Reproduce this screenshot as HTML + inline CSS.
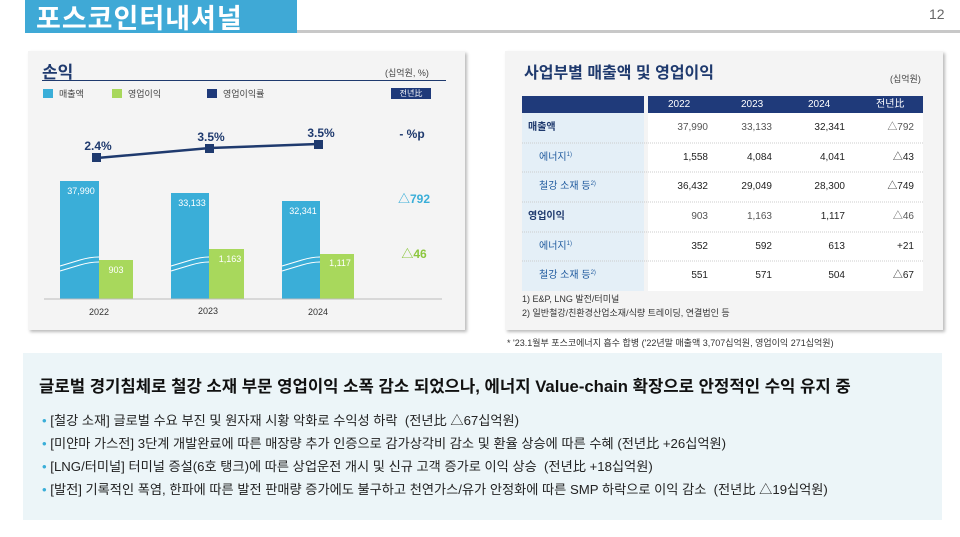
<!DOCTYPE html>
<html><head><meta charset="utf-8"><style>
*{margin:0;padding:0;box-sizing:border-box}
body{width:960px;height:537px;background:#fff;position:relative;overflow:hidden;font-family:"Liberation Sans","Noto Sans CJK KR",sans-serif;color:#222}
.a{position:absolute;white-space:nowrap}
.panel{position:absolute;background:#f4f4f4;box-shadow:2px 2px 3px #bbb}
.r{text-align:right}
.tb span{line-height:12px;height:12px;top:9px}
.tb sup{font-size:6px;line-height:0;vertical-align:4px}
.hd span{line-height:17px;top:0}
</style></head><body>
<div class="a" style="left:25px;top:0;width:272px;height:33px;background:#3fa9d6"></div>
<div class="a" style="left:36px;top:-3px;font-size:27px;font-weight:bold;color:#fff;letter-spacing:1px">포스코인터내셔널</div>
<div class="a" style="left:297px;top:30px;width:663px;height:3px;background:#c8c8c8"></div>
<div class="a" style="left:929px;top:6px;font-size:14px;color:#666">12</div>

<div class="panel" style="left:28px;top:51px;width:437px;height:279px"></div>
<div class="a" style="left:42px;top:58px;font-size:17px;font-weight:bold;color:#1f3a6e">손익</div>
<div class="a" style="left:385px;top:66px;font-size:9px;color:#444">(십억원, %)</div>
<div class="a" style="left:42px;top:80px;width:404px;height:1px;background:#1f3a6e"></div>
<div class="a" style="left:43px;top:89px;width:10px;height:9px;background:#3aaed8"></div>
<div class="a" style="left:59px;top:87px;font-size:9px;color:#444">매출액</div>
<div class="a" style="left:112px;top:89px;width:10px;height:9px;background:#a8d85c"></div>
<div class="a" style="left:128px;top:87px;font-size:9px;color:#444">영업이익</div>
<div class="a" style="left:207px;top:89px;width:10px;height:9px;background:#1f3a7a"></div>
<div class="a" style="left:223px;top:87px;font-size:9px;color:#444">영업이익률</div>
<div class="a" style="left:391px;top:88px;width:40px;height:11px;background:#1f3a7a;color:#fff;font-size:8px;text-align:center;line-height:11px">전년比</div>
<svg class="a" style="left:0;top:0" width="480" height="340">
<g fill="#3aaed8"><rect x="60" y="181" width="39" height="118"/><rect x="171" y="193" width="38" height="106"/><rect x="282" y="201" width="38" height="98"/></g>
<g fill="#a8d85c"><rect x="99" y="260" width="34" height="39"/><rect x="209" y="249" width="35" height="50"/><rect x="320" y="254" width="34" height="45"/></g>
<g stroke="#fff" fill="none" stroke-width="1"><path d="M60 266q10-3 20-6t19-3M60 271q10-3 20-6t19-3"/><path d="M171 266q10-3 20-6t18-3M171 271q10-3 20-6t18-3"/><path d="M282 266q10-3 20-6t18-3M282 271q10-3 20-6t18-3"/></g>
<line x1="44" y1="299" x2="442" y2="299" stroke="#bbb"/>
<polyline points="97,158 210,148 318,144" stroke="#1f3a6e" stroke-width="2.5" fill="none"/>
<g fill="#1f3a6e"><rect x="92" y="153" width="9" height="9"/><rect x="205" y="144" width="9" height="9"/><rect x="314" y="140" width="9" height="9"/></g>
<g font-size="9" fill="#fff" text-anchor="middle"><text x="81" y="194">37,990</text><text x="192" y="206">33,133</text><text x="303" y="214">32,341</text><text x="116" y="273">903</text><text x="230" y="262">1,163</text><text x="340" y="266">1,117</text></g>
<g font-size="12" font-weight="bold" fill="#1f3a6e" text-anchor="middle"><text x="98" y="150">2.4%</text><text x="211" y="141">3.5%</text><text x="321" y="137">3.5%</text><text x="412" y="138">- %p</text></g>
<text x="414" y="203" font-size="12" font-weight="bold" fill="#3aaed8" text-anchor="middle">△792</text>
<text x="414" y="258" font-size="12" font-weight="bold" fill="#8cc63e" text-anchor="middle">△46</text>
<g font-size="9" fill="#333" text-anchor="middle"><text x="99" y="315">2022</text><text x="208" y="314">2023</text><text x="318" y="315">2024</text></g>
</svg>

<div class="panel" style="left:505px;top:51px;width:438px;height:279px"></div>
<div class="a" style="left:524px;top:59px;font-size:16px;font-weight:bold;color:#1f3a6e">사업부별 매출액 및 영업이익</div>
<div class="a" style="left:890px;top:72px;font-size:9px;color:#444">(십억원)</div>
<div class="a" style="left:522px;top:96px;width:122px;height:17px;background:#1f3a7a"></div>
<div class="a" style="left:648px;top:96px;width:275px;height:17px;background:#1f3a7a"></div>
<div class="a" style="left:522px;top:113px;width:122px;height:178px;background:#e4eff7"></div>
<div class="a" style="left:648px;top:113px;width:275px;height:178px;background:#fff"></div>
<div class="a hd" style="left:648px;top:96px;width:275px;height:17px;font-size:10px;color:#fff">
<span class="a" style="left:20px">2022</span><span class="a" style="left:93px">2023</span><span class="a" style="left:160px">2024</span><span class="a" style="left:228px">전년比</span></div>
<svg class="a" style="left:520px;top:113px" width="410" height="180"><g stroke="#ccc" stroke-dasharray="1,1"><line x1="2" y1="30" x2="403" y2="30"/><line x1="2" y1="59" x2="403" y2="59"/><line x1="2" y1="89" x2="403" y2="89"/><line x1="2" y1="119" x2="403" y2="119"/><line x1="2" y1="148" x2="403" y2="148"/></g></svg>
<div class="a tb" style="left:522px;top:113px;width:400px;font-size:10px">
<div style="position:relative;height:29.7px"><span class="a" style="left:6px;font-weight:bold;color:#1f3a6e">매출액</span><span class="a r" style="right:214px;color:#555">37,990</span><span class="a r" style="right:150px;color:#555">33,133</span><span class="a r" style="right:77px">32,341</span><span class="a r" style="right:8px;color:#555">△792</span></div>
<div style="position:relative;height:29.7px"><span class="a" style="left:17px;color:#1f5a9e">에너지<sup>1)</sup></span><span class="a r" style="right:214px">1,558</span><span class="a r" style="right:150px">4,084</span><span class="a r" style="right:77px">4,041</span><span class="a r" style="right:8px">△43</span></div>
<div style="position:relative;height:29.7px"><span class="a" style="left:17px;color:#1f5a9e">철강 소재 등<sup>2)</sup></span><span class="a r" style="right:214px">36,432</span><span class="a r" style="right:150px">29,049</span><span class="a r" style="right:77px">28,300</span><span class="a r" style="right:8px">△749</span></div>
<div style="position:relative;height:29.7px"><span class="a" style="left:6px;font-weight:bold;color:#1f3a6e">영업이익</span><span class="a r" style="right:214px;color:#555">903</span><span class="a r" style="right:150px;color:#555">1,163</span><span class="a r" style="right:77px">1,117</span><span class="a r" style="right:8px;color:#555">△46</span></div>
<div style="position:relative;height:29.7px"><span class="a" style="left:17px;color:#1f5a9e">에너지<sup>1)</sup></span><span class="a r" style="right:214px">352</span><span class="a r" style="right:150px">592</span><span class="a r" style="right:77px">613</span><span class="a r" style="right:8px">+21</span></div>
<div style="position:relative;height:29.7px"><span class="a" style="left:17px;color:#1f5a9e">철강 소재 등<sup>2)</sup></span><span class="a r" style="right:214px">551</span><span class="a r" style="right:150px">571</span><span class="a r" style="right:77px">504</span><span class="a r" style="right:8px">△67</span></div>
</div>
<div class="a" style="left:522px;top:292px;font-size:9px;color:#333">1) E&amp;P, LNG 발전/터미널</div>
<div class="a" style="left:522px;top:306px;font-size:9px;color:#333">2) 일반철강/친환경산업소재/식량 트레이딩, 연결법인 등</div>
<div class="a" style="left:507px;top:336px;font-size:9px;color:#333">* '23.1월부 포스코에너지 흡수 합병 ('22년말 매출액 3,707십억원, 영업이익 271십억원)</div>

<div class="a" style="left:23px;top:353px;width:919px;height:167px;background:#ecf5f8"></div>
<div class="a" style="left:39px;top:373px;font-size:16.7px;font-weight:bold;color:#111">글로벌 경기침체로 철강 소재 부문 영업이익 소폭 감소 되었으나, 에너지 Value-chain 확장으로 안정적인 수익 유지 중</div>
<div class="a" style="left:42px;top:409px;font-size:13.2px;color:#222;line-height:23px">
<div><span style="color:#3aaed8">•</span> [철강 소재] 글로벌 수요 부진 및 원자재 시황 악화로 수익성 하락 &nbsp;(전년比 △67십억원)</div>
<div><span style="color:#3aaed8">•</span> [미얀마 가스전] 3단계 개발완료에 따른 매장량 추가 인증으로 감가상각비 감소 및 환율 상승에 따른 수혜 (전년比 +26십억원)</div>
<div><span style="color:#3aaed8">•</span> [LNG/터미널] 터미널 증설(6호 탱크)에 따른 상업운전 개시 및 신규 고객 증가로 이익 상승 &nbsp;(전년比 +18십억원)</div>
<div><span style="color:#3aaed8">•</span> [발전] 기록적인 폭염, 한파에 따른 발전 판매량 증가에도 불구하고 천연가스/유가 안정화에 따른 SMP 하락으로 이익 감소 &nbsp;(전년比 △19십억원)</div>
</div>
</body></html>
